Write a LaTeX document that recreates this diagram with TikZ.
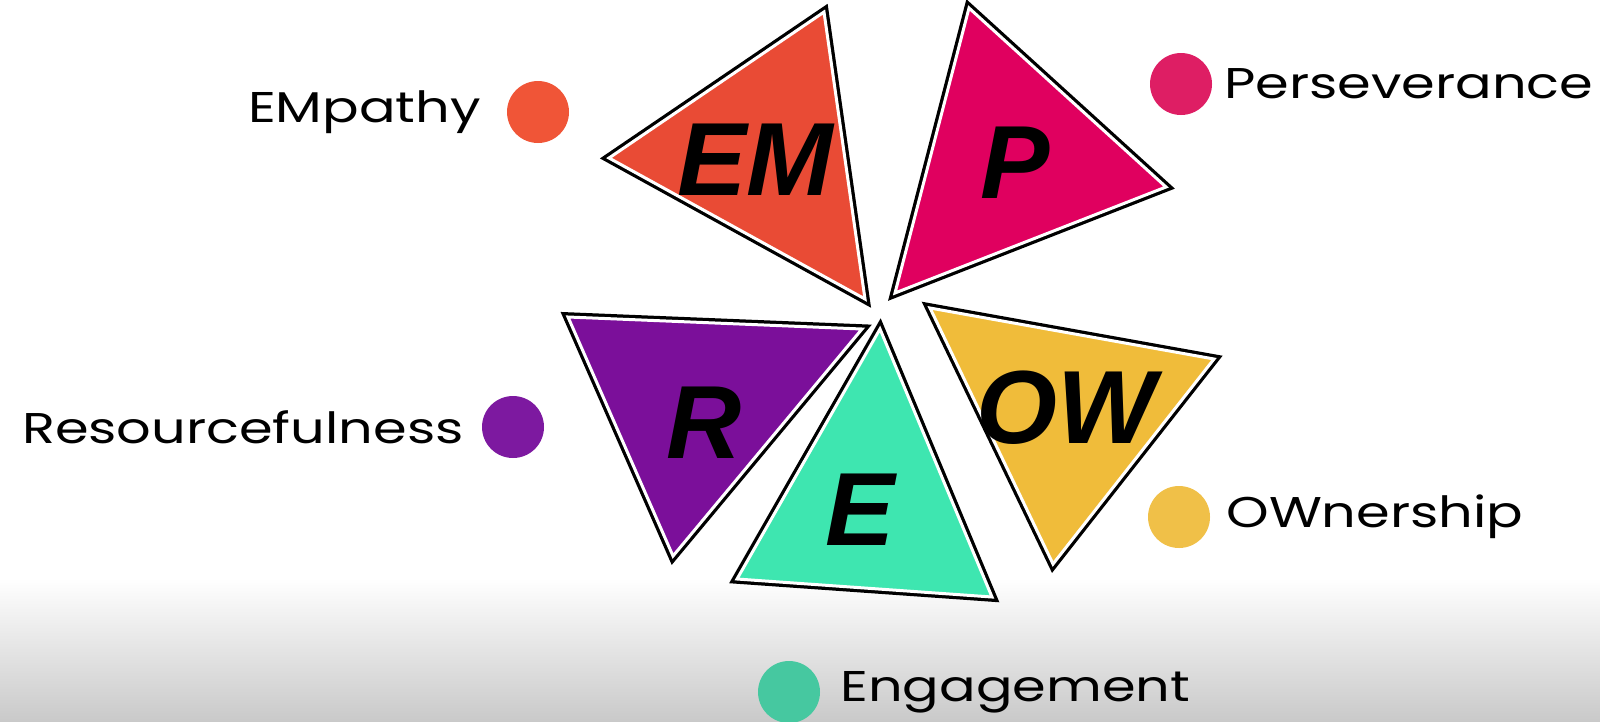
\documentclass[tikz,border=0pt]{standalone}
\usepackage{fontspec}
\setmainfont{Poppins}[FakeStretch=1.26]
\newfontfamily\markfont{Liberation Sans}
\usepackage{xcolor}
\usepackage{tikz}
\usetikzlibrary{positioning}
\definecolor{empColor}{RGB}{233,75,53}
\definecolor{perColor}{RGB}{224,0,95}
\definecolor{resColor}{RGB}{123,15,154}
\definecolor{engColor}{RGB}{62,230,176}
\definecolor{ownColor}{RGB}{240,188,58}
\definecolor{empDotColor}{RGB}{240,85,55}
\definecolor{perDotColor}{RGB}{222,30,100}
\definecolor{resDotColor}{RGB}{125,25,160}
\definecolor{ownDotColor}{RGB}{240,192,72}
\definecolor{engDotColor}{RGB}{70,200,160}
\tikzset{
    outline/.style={draw=black, line width=9.5pt},
    face/.style={draw=white, line width=3pt},
    initials/.style={font=\markfont\bfseries\itshape\fontsize{104}{104}\selectfont, inner sep=0pt},
    dot/.style={circle, minimum size=62pt, inner sep=0pt},
    word/.style={font=\fontsize{43}{50}\selectfont, inner sep=0pt}
}

\begin{document}
\begin{tikzpicture}[x=1pt, y=-1pt]
        \useasboundingbox (0,0) rectangle (1600,721);
        % Background
        \shade[top color=white, bottom color=black!21] (0,578) rectangle (1600,721);

        % Corners of the pennants
        \coordinate (emA) at (824,12);  \coordinate (emB) at (609,158);  \coordinate (emC) at (865,299);
        \coordinate (pA) at (969,8);    \coordinate (pB) at (1166,187);  \coordinate (pC) at (895,293);
        \coordinate (rA) at (568,317);  \coordinate (rB) at (862,329);   \coordinate (rC) at (673,556);
        \coordinate (eA) at (880,329);  \coordinate (eB) at (737,579);   \coordinate (eC) at (992,597);
        \coordinate (owA) at (930,308); \coordinate (owB) at (1214,359); \coordinate (owC) at (1053,564);

        % Pennants
        \draw[outline] (emA) -- (emB) -- (emC) -- cycle;
        \filldraw[face, fill=empColor] (emA) -- (emB) -- (emC) -- cycle;
        \draw[outline] (pA) -- (pB) -- (pC) -- cycle;
        \filldraw[face, fill=perColor] (pA) -- (pB) -- (pC) -- cycle;
        \draw[outline] (rA) -- (rB) -- (rC) -- cycle;
        \filldraw[face, fill=resColor] (rA) -- (rB) -- (rC) -- cycle;
        \draw[outline] (eA) -- (eB) -- (eC) -- cycle;
        \filldraw[face, fill=engColor] (eA) -- (eB) -- (eC) -- cycle;
        \draw[outline] (owA) -- (owB) -- (owC) -- cycle;
        \filldraw[face, fill=ownColor] (owA) -- (owB) -- (owC) -- cycle;

        % Letters
        \node[initials] (emText) at (755,160) {EM};
        \node[initials] (pText) at (1015,163) {P};
        \node[initials] (rText) at (704,423) {R};
        \node[initials] (eText) at (860,510) {E};
        \node[initials] (owText) at (1066,408) {OW};

        % Dots and words
        \node[dot, fill=empDotColor] (empDot) at (538,112) {};
        \node[word, left=26pt of empDot] (empWord) {EMpathy};
        \node[dot, fill=perDotColor] (perDot) at (1181,84) {};
        \node[word, right=12pt of perDot] (perWord) {Perseverance};
        \node[dot, fill=resDotColor] (resDot) at (513,427) {};
        \node[word, left=18pt of resDot] (resWord) {Resourcefulness};
        \node[dot, fill=ownDotColor] (ownDot) at (1179,517) {};
        \node[word, right=16pt of ownDot] (ownWord) {OWnership};
        \node[dot, fill=engDotColor] (engDot) at (789,692) {};
        \node[word, right=20pt of engDot] (engWord) {Engagement};
    \end{tikzpicture}
\end{document}
